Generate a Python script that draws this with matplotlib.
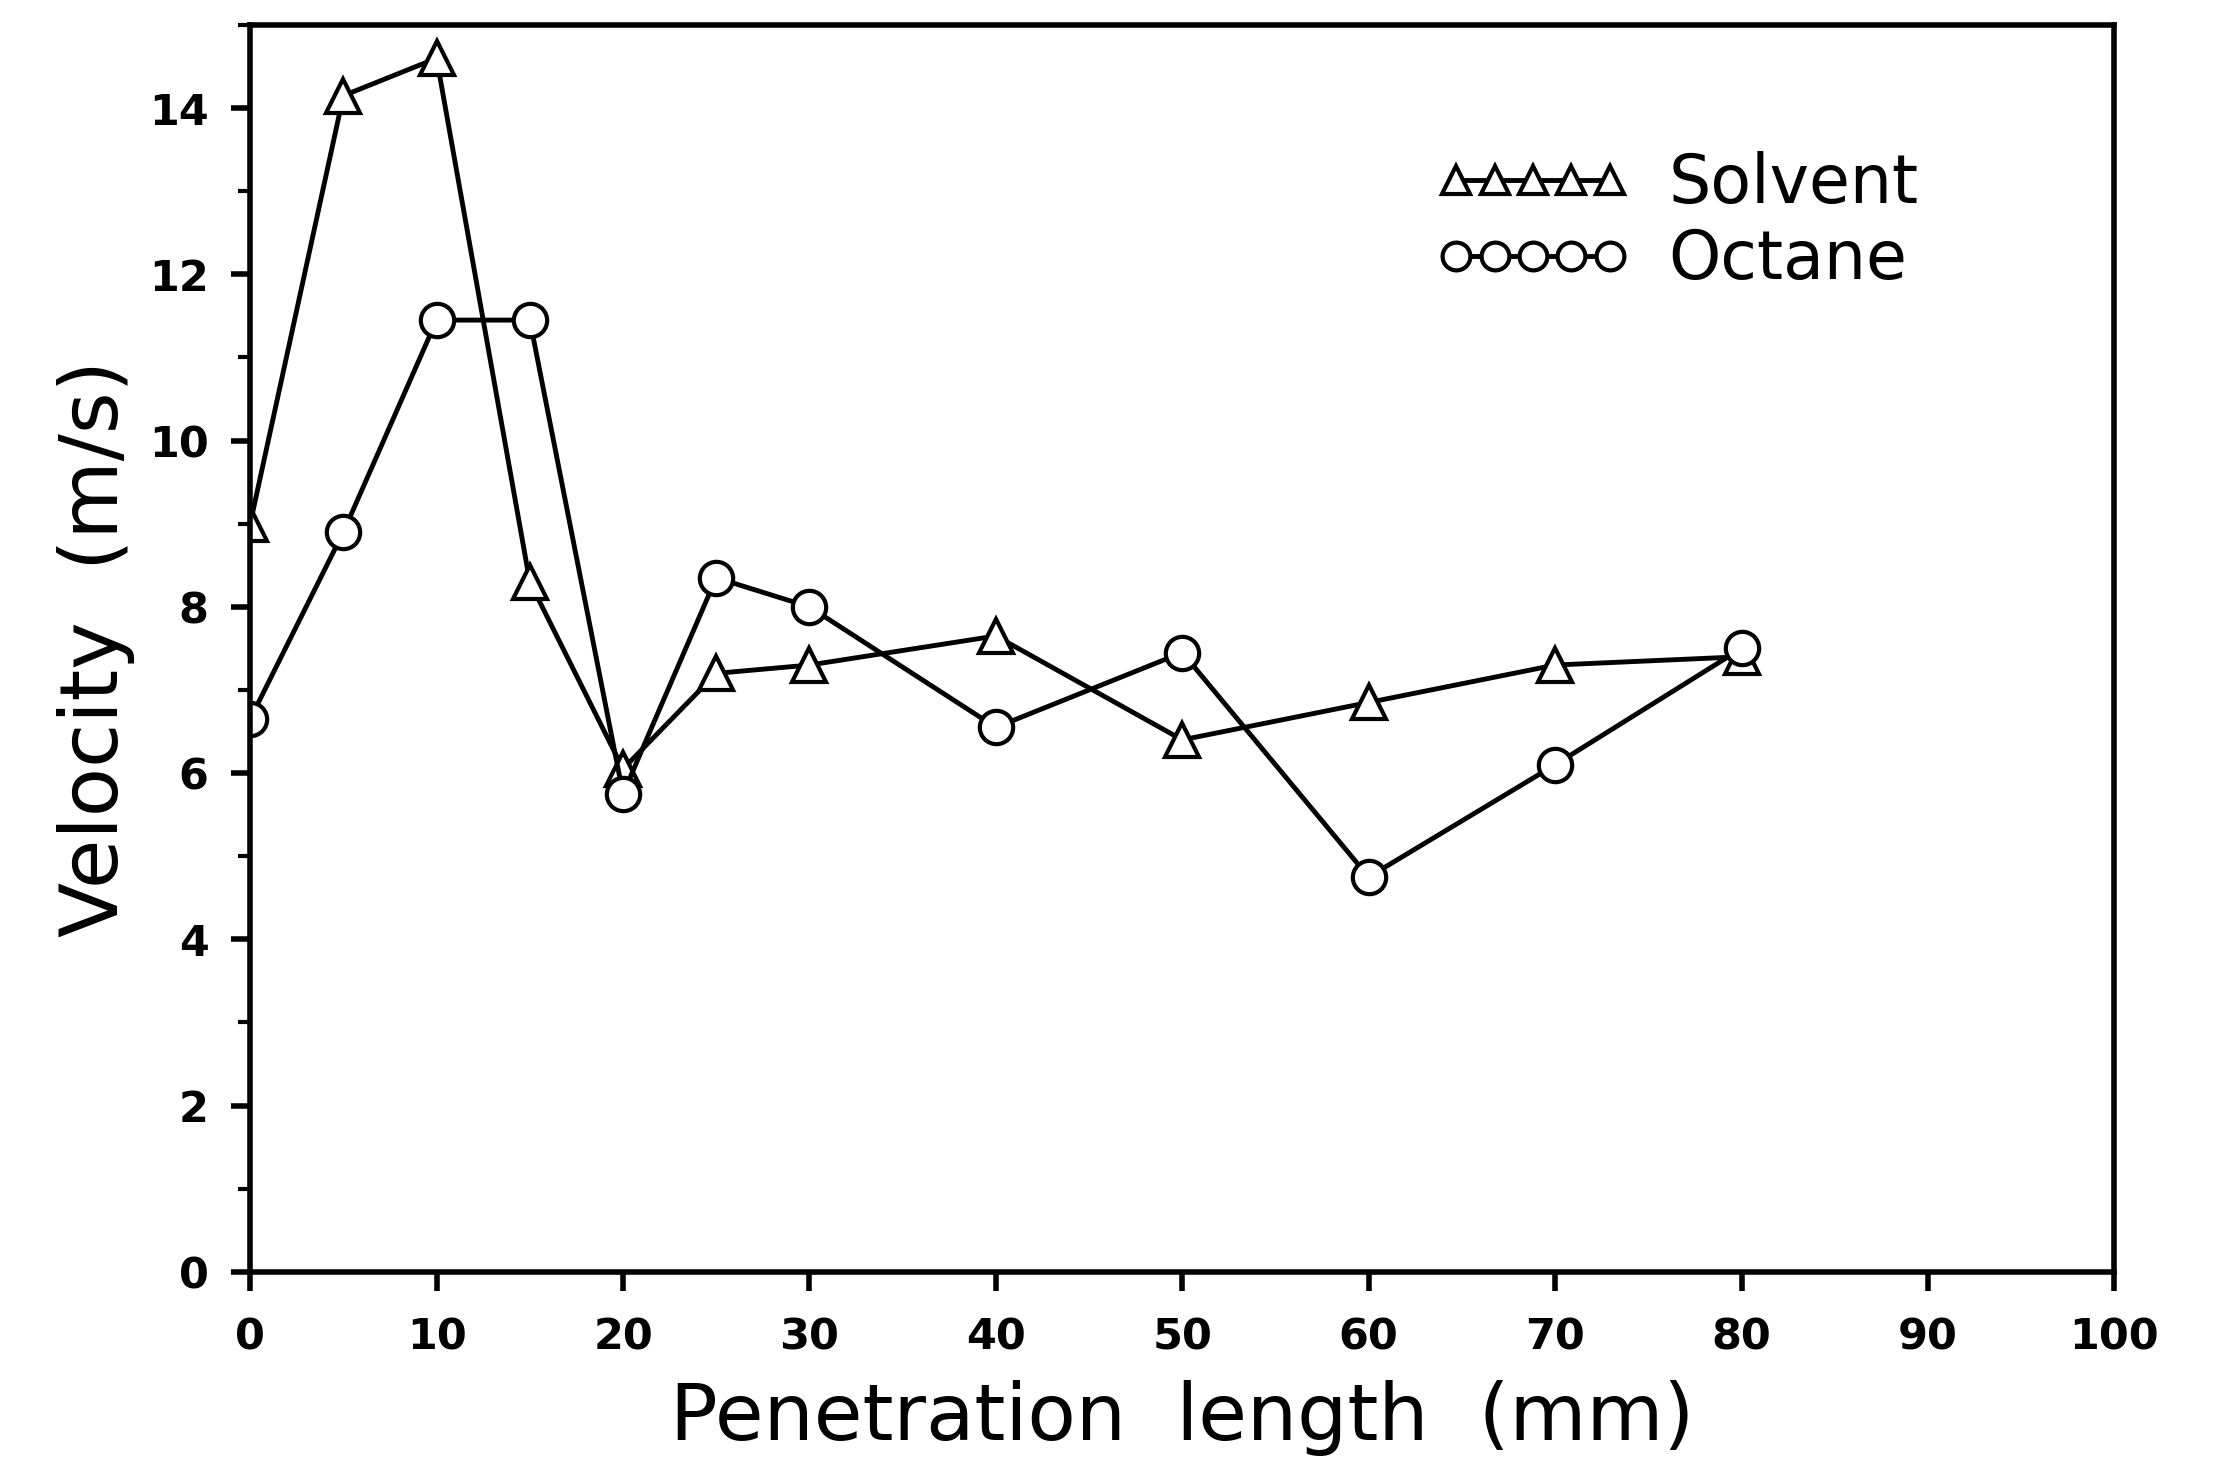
import numpy as np
import matplotlib
matplotlib.use('Agg')
import matplotlib.pyplot as plt
from matplotlib.ticker import MultipleLocator

# Penetration length positions (mm) and measured velocities (m/s)
solvent_x = [0, 5, 10, 15, 20, 25, 30, 40, 50, 60, 70, 80]
solvent_v = [9.0, 14.15, 14.6, 8.3, 6.05, 7.2, 7.3, 7.65, 6.4, 6.85, 7.3, 7.4]

octane_x = [0, 5, 10, 15, 20, 25, 30, 40, 50, 60, 70, 80]
octane_v = [6.65, 8.9, 11.45, 11.45, 5.75, 8.35, 8.0, 6.55, 7.45, 4.75, 6.1, 7.5]

x_ticks = [0, 10, 20, 30, 40, 50, 60, 70, 80, 90, 100]
y_ticks = [0, 2, 4, 6, 8, 10, 12, 14]

plt.rcParams['font.family'] = ['DejaVu Sans']

fig = plt.figure(figsize=(22.14, 14.72), dpi=100)
ax = fig.add_axes([0.113, 0.136, 0.842, 0.847])

ax.plot(solvent_x, solvent_v, color='black', linewidth=3.5, marker='^',
        markersize=25, markerfacecolor='white', markeredgecolor='black',
        markeredgewidth=3, label='Solvent')
ax.plot(octane_x, octane_v, color='black', linewidth=3.5, marker='o',
        markersize=24, markerfacecolor='white', markeredgecolor='black',
        markeredgewidth=3, label='Octane')

ax.set_xlim(0, 100)
ax.set_ylim(0, 15)
ax.set_xticks(x_ticks)
ax.set_yticks(y_ticks)
ax.yaxis.set_minor_locator(MultipleLocator(1))

for side in ['left', 'bottom', 'top', 'right']:
    ax.spines[side].set_linewidth(4)

ax.tick_params(axis='both', which='major', direction='out', length=14,
               width=4, labelsize=31)
ax.tick_params(axis='x', which='major', pad=18)
ax.tick_params(axis='y', which='major', pad=16)
ax.tick_params(axis='y', which='minor', direction='out', length=9, width=3)
for lbl in ax.get_xticklabels() + ax.get_yticklabels():
    lbl.set_fontweight('bold')

ax.set_xlabel('Penetration  length  (mm)', fontsize=57, labelpad=16)
ax.set_ylabel('Velocity  (m/s)', fontsize=58, labelpad=10)

# legend shows a row of five markers per series
leg = ax.legend(loc='upper left', bbox_to_anchor=(0.622, 0.92), numpoints=5,
                handlelength=2.9, handletextpad=0.58, frameon=False,
                fontsize=48, labelspacing=0.15, borderaxespad=0)
for h in leg.legend_handles:
    h.set_markersize(20)
    h.set_markeredgewidth(3)

fig.savefig('out.png', dpi=100, facecolor='white')
